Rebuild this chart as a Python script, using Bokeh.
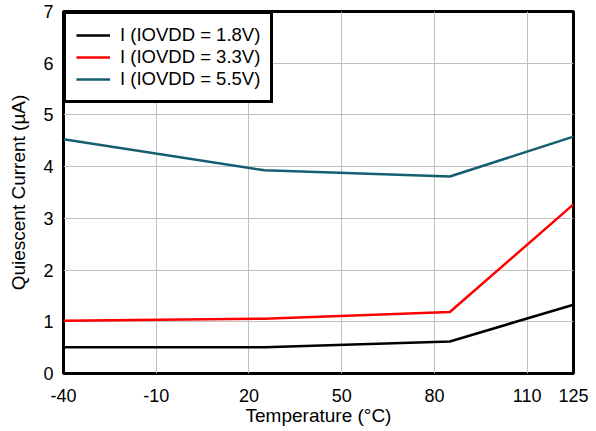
from bokeh.plotting import figure
from bokeh.models import FixedTicker, Range1d, Legend, LegendItem
from bokeh.embed import file_html
from bokeh.resources import INLINE

temps = [-40, 25, 85, 125]
i_18 = [0.51, 0.51, 0.62, 1.33]
i_33 = [1.02, 1.06, 1.19, 3.27]
i_55 = [4.53, 3.93, 3.81, 4.58]
x_ticks = [-40, -10, 20, 50, 80, 110, 125]
y_ticks = [0, 1, 2, 3, 4, 5, 6, 7]
labels = ["I (IOVDD = 1.8V)", "I (IOVDD = 3.3V)", "I (IOVDD = 5.5V)"]
colors = ["#000000", "#ff0000", "#155e70"]

p = figure(frame_width=510, frame_height=362, output_backend="svg", toolbar_location=None,
           x_range=Range1d(-40, 125), y_range=Range1d(0, 7),
           min_border_left=63, min_border_right=23, min_border_top=11, min_border_bottom=58)

p.outline_line_color = "#000000"
p.outline_line_alpha = 1.0
p.outline_line_width = 3

for ax in (p.xaxis[0], p.yaxis[0]):
    ax.axis_line_color = None
    ax.major_tick_line_color = None
    ax.minor_tick_line_color = None
    ax.major_tick_out = 0
    ax.major_tick_in = 0
    ax.minor_tick_out = 0
    ax.minor_tick_in = 0
    ax.major_label_text_font = "Liberation Sans"
    ax.major_label_text_font_size = "18px"
    ax.major_label_text_color = "#000000"
    ax.axis_label_text_font = "Liberation Sans"
    ax.axis_label_text_font_size = "19px"
    ax.axis_label_text_font_style = "normal"
    ax.axis_label_text_color = "#000000"

p.xaxis.ticker = FixedTicker(ticks=x_ticks)
p.yaxis.ticker = FixedTicker(ticks=y_ticks)
p.xaxis.major_label_overrides = {t: str(t) for t in x_ticks}
p.xaxis.axis_label = "Temperature (°C)"
p.yaxis.axis_label = "Quiescent Current (µA)"
p.xaxis.major_label_standoff = 15
p.yaxis.major_label_standoff = 10
p.xaxis.axis_label_standoff = 0
p.yaxis.axis_label_standoff = 11

p.xgrid.grid_line_color = "#c0c0c0"
p.ygrid.grid_line_color = "#c0c0c0"
p.xgrid.grid_line_width = 1
p.ygrid.grid_line_width = 1

items = []
for ys, lab, c in zip([i_18, i_33, i_55], labels, colors):
    r = p.line(temps, ys, line_color=c, line_width=2.5)
    items.append(LegendItem(label=lab, renderers=[r]))

legend = Legend(items=items, location="top_left")
legend.border_line_color = "#000000"
legend.border_line_alpha = 1.0
legend.border_line_width = 3
legend.label_text_font = "Liberation Sans"
legend.label_text_font_size = "18.5px"
legend.label_text_color = "#000000"
legend.margin = 0
legend.padding = 10
legend.spacing = 0
legend.glyph_width = 34
legend.label_height = 22
legend.glyph_height = 22
legend.label_standoff = 10
legend.background_fill_alpha = 1
p.add_layout(legend)

open("out.html", "w").write(file_html(p, INLINE))
